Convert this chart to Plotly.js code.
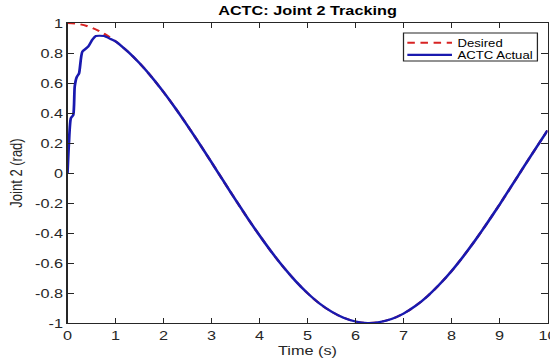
<!DOCTYPE html>
<html><head><meta charset="utf-8">
<script src="https://cdn.plot.ly/plotly-3.0.1.min.js"></script>
<style>html,body{margin:0;padding:0;background:#fff;overflow:hidden;}#chart{width:440px;height:362px;transform:scale(1.25,1);transform-origin:0 0;}</style>
</head><body><div id="chart"></div>
<script>
const timeDesired = [0,0.25,0.5,0.75,1,1.25,1.5,1.75,2,2.25,2.5,2.75,3,3.25,3.5,3.75,4,4.25,4.5,4.75,5,5.25,5.5,5.75,6,6.25,6.5,6.75,7,7.25,7.5,7.75,8,8.25,8.5,8.75,9,9.25,9.5,9.75,10];
const desired = [1,0.992,0.969,0.931,0.878,0.811,0.732,0.641,0.540,0.431,0.315,0.195,0.071,-0.054,-0.178,-0.300,-0.416,-0.526,-0.628,-0.720,-0.801,-0.870,-0.924,-0.965,-0.990,-1.000,-0.994,-0.973,-0.937,-0.886,-0.821,-0.743,-0.654,-0.554,-0.446,-0.331,-0.211,-0.087,0.038,0.161,0.284];
const timeActual = [0,0.03,0.07,0.12,0.15,0.19,0.24,0.31,0.43,0.52,0.59,0.76,0.9,1,1.25,1.5,1.75,2,2.25,2.5,2.75,3,3.25,3.5,3.75,4,4.25,4.5,4.75,5,5.25,5.5,5.75,6,6.25,6.5,6.75,7,7.25,7.5,7.75,8,8.25,8.5,8.75,9,9.25,9.5,9.75,10];
const actual = [0,0.2,0.365,0.387,0.575,0.638,0.664,0.809,0.842,0.89,0.913,0.913,0.893,0.878,0.811,0.732,0.641,0.540,0.431,0.315,0.195,0.071,-0.054,-0.178,-0.300,-0.416,-0.526,-0.628,-0.720,-0.801,-0.870,-0.924,-0.965,-0.990,-1.000,-0.994,-0.973,-0.937,-0.886,-0.821,-0.743,-0.654,-0.554,-0.446,-0.331,-0.211,-0.087,0.038,0.161,0.284];
const seriesNames = ['Desired', 'ACTC Actual'];
const xTicks = [0,1,2,3,4,5,6,7,8,9,10];
const yTicks = [-1,-0.8,-0.6,-0.4,-0.2,0,0.2,0.4,0.6,0.8,1];

const fontFam = 'Liberation Sans, Arial, sans-serif';
const axCol = '#262626';
const red = 'rgb(215,35,35)';
const blue = 'rgb(25,25,175)';
const traces = [
  {x: timeDesired, y: desired, type:'scatter', mode:'lines', name:seriesNames[0], showlegend:false,
   line:{color:red, width:2, dash:'6px,4.5px', shape:'spline', smoothing:1}},
  {x: timeActual, y: actual, type:'scatter', mode:'lines', name:seriesNames[1], showlegend:false,
   line:{color:blue, width:2.2, shape:'spline', smoothing:0.6}}
];
const axisCommon = {
  showline:true, mirror:'ticks', linecolor:axCol, linewidth:1,
  ticks:'inside', ticklen:5, tickcolor:axCol, showgrid:false, zeroline:false,
  tickfont:{family:fontFam, size:13, color:axCol}
};
// legend box (paper coords)
const lg = {x0:0.7, x1:0.979, y0:0.873, y1:0.967, lx0:0.708, lx1:0.801, tx:0.806, ys:[0.934, 0.894]};
const legendShapes = [
  {type:'rect', xref:'paper', yref:'paper', x0:lg.x0, x1:lg.x1, y0:lg.y0, y1:lg.y1,
   line:{color:axCol, width:1}, fillcolor:'#fff', layer:'above'},
  {type:'line', xref:'paper', yref:'paper', x0:lg.lx0, x1:lg.lx1, y0:lg.ys[0], y1:lg.ys[0],
   line:{color:red, width:2, dash:'6px,4.5px'}, layer:'above'},
  {type:'line', xref:'paper', yref:'paper', x0:lg.lx0, x1:lg.lx1, y0:lg.ys[1], y1:lg.ys[1],
   line:{color:blue, width:2.2}, layer:'above'}
];
const legendText = seriesNames.map((n, i) => ({
  xref:'paper', yref:'paper', x:lg.tx, y:lg.ys[i], xanchor:'left', yanchor:'middle',
  text:n, showarrow:false, font:{family:fontFam, size:10.5, color:'#000'}
}));
const layout = {
  width:440, height:362,
  margin:{l:53.6, r:2.4, t:23, b:39},
  paper_bgcolor:'#fff', plot_bgcolor:'#fff',
  title:{text:'<b>ACTC: Joint 2 Tracking</b>', font:{family:fontFam, size:13, color:'#000'},
    xref:'paper', x:0.5, xanchor:'center', y:0.97, yanchor:'middle'},
  xaxis: Object.assign({}, axisCommon, {range:[0,10], tickvals:xTicks, ticktext:xTicks.map(String),
    ticklabeloverflow:'allow',
    title:{text:'Time (s)', font:{family:fontFam, size:13, color:axCol}, standoff:2}}),
  yaxis: Object.assign({}, axisCommon, {range:[-1,1], tickvals:yTicks, ticktext:yTicks.map(String),
    title:{text:'Joint 2 (rad)', font:{family:fontFam, size:13, color:axCol}, standoff:6}}),
  showlegend:false,
  shapes: legendShapes,
  annotations: legendText
};
Plotly.newPlot('chart', traces, layout, {displayModeBar:false, staticPlot:true});
</script></body></html>
